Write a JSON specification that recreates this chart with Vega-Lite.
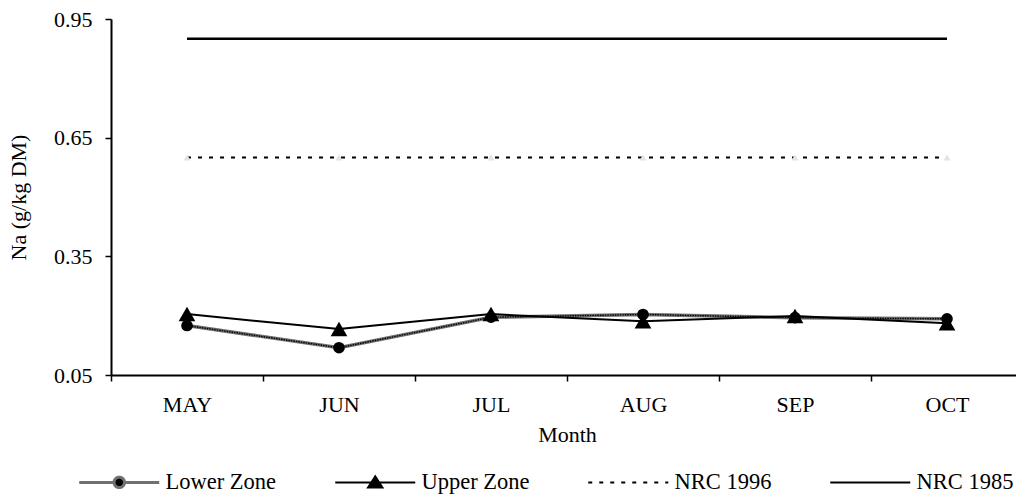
{
  "$schema": "https://vega.github.io/schema/vega-lite/v6.json",
  "autosize": {"type": "none"},
  "padding": {"left": 111, "top": 19, "right": 0, "bottom": 121},
  "width": 905,
  "height": 356,
  "background": "white",
  "config": {
    "view": {"stroke": null},
    "font": "Liberation Serif, Times New Roman, serif",
    "axis": {"grid": false, "domainColor": "#000", "tickColor": "#000", "labelColor": "#000", "titleColor": "#000", "labelFont": "Liberation Serif, Times New Roman, serif", "titleFont": "Liberation Serif, Times New Roman, serif", "titleFontWeight": "normal"}
  },
  "data": {
    "values": [
      {"month": "MAY", "series": "Lower Zone", "value": 0.175},
      {"month": "JUN", "series": "Lower Zone", "value": 0.119},
      {"month": "JUL", "series": "Lower Zone", "value": 0.196},
      {"month": "AUG", "series": "Lower Zone", "value": 0.203},
      {"month": "SEP", "series": "Lower Zone", "value": 0.195},
      {"month": "OCT", "series": "Lower Zone", "value": 0.192},
      {"month": "MAY", "series": "Upper Zone", "value": 0.204},
      {"month": "JUN", "series": "Upper Zone", "value": 0.166},
      {"month": "JUL", "series": "Upper Zone", "value": 0.204},
      {"month": "AUG", "series": "Upper Zone", "value": 0.186},
      {"month": "SEP", "series": "Upper Zone", "value": 0.199},
      {"month": "OCT", "series": "Upper Zone", "value": 0.181},
      {"month": "MAY", "series": "NRC 1996", "value": 0.6},
      {"month": "JUN", "series": "NRC 1996", "value": 0.6},
      {"month": "JUL", "series": "NRC 1996", "value": 0.6},
      {"month": "AUG", "series": "NRC 1996", "value": 0.6},
      {"month": "SEP", "series": "NRC 1996", "value": 0.6},
      {"month": "OCT", "series": "NRC 1996", "value": 0.6},
      {"month": "MAY", "series": "NRC 1985", "value": 0.9},
      {"month": "JUN", "series": "NRC 1985", "value": 0.9},
      {"month": "JUL", "series": "NRC 1985", "value": 0.9},
      {"month": "AUG", "series": "NRC 1985", "value": 0.9},
      {"month": "SEP", "series": "NRC 1985", "value": 0.9},
      {"month": "OCT", "series": "NRC 1985", "value": 0.9}
    ]
  },
  "encoding": {
    "x": {
      "field": "month",
      "type": "nominal",
      "sort": ["MAY", "JUN", "JUL", "AUG", "SEP", "OCT"],
      "scale": {"type": "band", "range": [0, 912], "paddingInner": 0, "paddingOuter": 0},
      "axis": {
        "title": "Month",
        "labelAngle": 0,
        "labelFontSize": 22,
        "titleFontSize": 22,
        "tickBand": "extent",
        "tickSize": 6,
        "tickWidth": 1.5,
        "domainWidth": 2,
        "labelPadding": 13,
        "titlePadding": 9
      }
    },
    "y": {
      "field": "value",
      "type": "quantitative",
      "scale": {"domain": [0.05, 0.95], "nice": false, "zero": false},
      "axis": {
        "title": "Na (g/kg DM)",
        "values": [0.05, 0.35, 0.65, 0.95],
        "format": ".2f",
        "labelFontSize": 22,
        "titleFontSize": 22,
        "tickSize": 6,
        "tickWidth": 1.5,
        "domainWidth": 2,
        "labelPadding": 13,
        "titlePadding": 23
      }
    }
  },
  "layer": [
    {
      "transform": [{"filter": "datum.series === 'NRC 1985'"}],
      "mark": {"type": "line", "strokeWidth": 2.5},
      "encoding": {
        "color": {
          "field": "series",
          "type": "nominal",
          "scale": {"domain": ["Lower Zone", "Upper Zone", "NRC 1996", "NRC 1985"], "range": ["#707070", "#000000", "#000000", "#000000"]},
          "legend": {
            "title": null,
            "orient": "none",
            "direction": "horizontal",
            "legendX": -3,
            "legendY": 452,
            "symbolSize": 6400,
            "labelFont": "Liberation Serif, Times New Roman, serif",
            "labelFontSize": 22.5,
            "labelColor": "#000",
            "labelOffset": 35,
            "columnPadding": 54,
            "encode": {
              "symbols": {
                "update": {
                  "shape": {"signal": "datum.value === 'Lower Zone' ? 'M-1,0H-0.13M0.13,0H1M-0.13,0A0.13,0.13,0,1,1,0.13,0A0.13,0.13,0,1,1,-0.13,0Z' : datum.value === 'Upper Zone' ? 'M-1,0H1M0,-0.15L0.18,0.13L-0.18,0.13Z' : 'M-1,0H1'"},
                  "fill": {"signal": "datum.value === 'Lower Zone' || datum.value === 'Upper Zone' ? '#000000' : 'transparent'"},
                  "stroke": {"signal": "datum.value === 'Lower Zone' ? '#333333' : '#000000'"},
                  "strokeDash": {"signal": "datum.value === 'NRC 1996' ? [4, 7] : [1, 0]"},
                  "strokeWidth": {"signal": "datum.value === 'Lower Zone' ? 3 : 2"},
                  "opacity": {"value": 1}
                }
              }
            }
          }
        }
      }
    },
    {
      "transform": [{"filter": "datum.series === 'NRC 1996'"}],
      "mark": {"type": "line", "strokeWidth": 2, "strokeDash": [4, 7]},
      "encoding": {"color": {"field": "series", "type": "nominal"}}
    },
    {
      "transform": [{"filter": "datum.series === 'NRC 1996'"}],
      "mark": {"type": "point", "shape": "triangle-up", "filled": true, "color": "#e4e4e4", "size": 50, "opacity": 1}
    },
    {
      "transform": [{"filter": "datum.series === 'Lower Zone'"}],
      "mark": {"type": "line", "strokeWidth": 3.5},
      "encoding": {"color": {"field": "series", "type": "nominal"}}
    },
    {
      "transform": [{"filter": "datum.series === 'Lower Zone'"}],
      "mark": {"type": "line", "strokeWidth": 1.4, "strokeDash": [1.5, 1], "color": "#000000"}
    },
    {
      "transform": [{"filter": "datum.series === 'Upper Zone'"}],
      "mark": {"type": "line", "strokeWidth": 2},
      "encoding": {"color": {"field": "series", "type": "nominal"}}
    },
    {
      "transform": [{"filter": "datum.series === 'Lower Zone'"}],
      "mark": {"type": "point", "shape": "circle", "filled": true, "color": "#000000", "size": 135, "opacity": 1}
    },
    {
      "transform": [{"filter": "datum.series === 'Upper Zone'"}],
      "mark": {"type": "point", "shape": "triangle-up", "filled": true, "color": "#000000", "size": 280, "opacity": 1}
    }
  ]
}
